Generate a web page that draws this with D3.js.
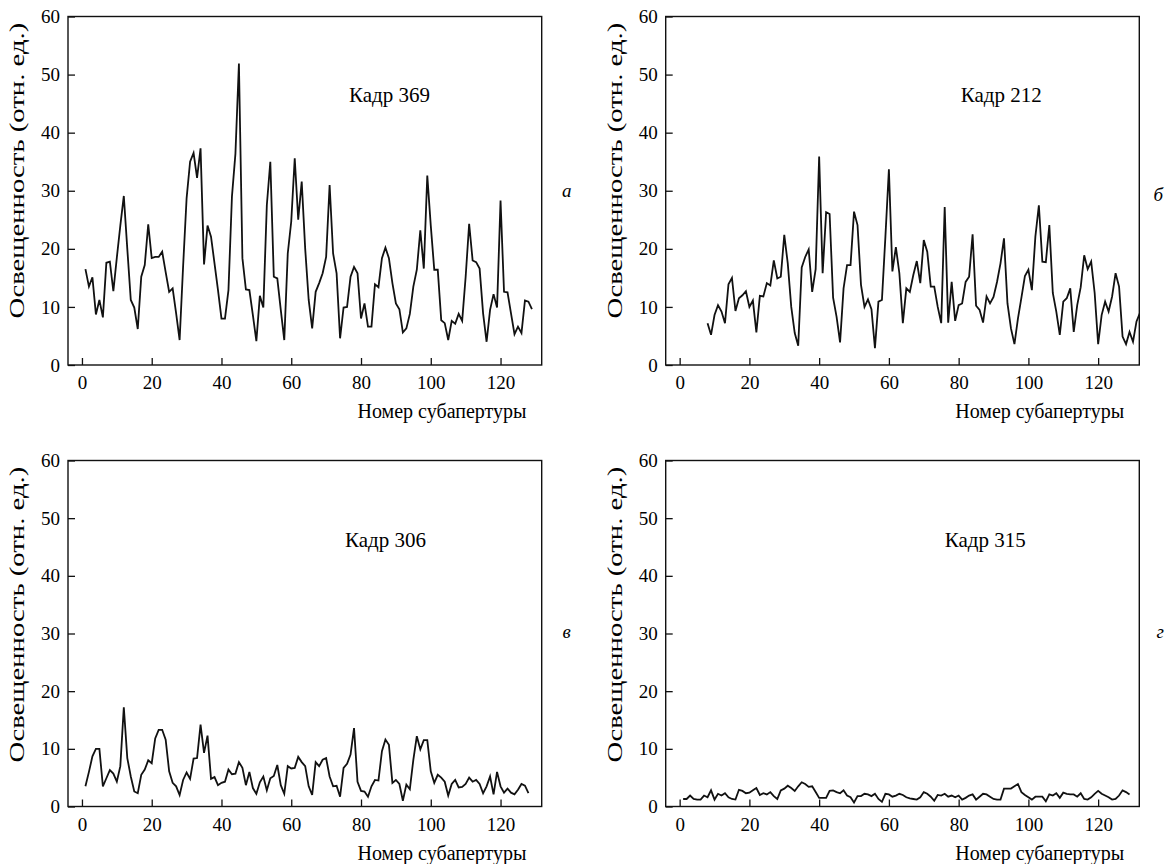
<!DOCTYPE html>
<html><head><meta charset="utf-8">
<script src="https://cdn.jsdelivr.net/npm/d3@7"></script>
<style>
body{margin:0;background:#fff}
</style>
</head><body>
<svg id="chart" width="1168" height="864"></svg>
<script>
// ---------- data ----------
const frameTitles = ["Кадр 369", "Кадр 212", "Кадр 306", "Кадр 315"];
const panelLetters = ["а", "б", "в", "г"];
const xTicks = [0, 20, 40, 60, 80, 100, 120];
const yTicks = [0, 10, 20, 30, 40, 50, 60];
const xTitle = "Номер субапертуры";
const yTitle = "Освещенность (отн. ед.)";

const startA = 1;
const seriesA = [16.5, 13.5, 15.1, 8.7, 11.2, 8.2, 17.6, 17.8, 12.7, 18.5, 24.0, 29.1, 20.0, 11.2, 9.9, 6.2, 15.2, 17.2, 24.2, 18.4,
  18.6, 18.6, 19.5, 16.0, 12.6, 13.2, 8.9, 4.3, 17.0, 28.7, 35.0, 36.5, 32.2, 37.3, 17.3, 24.0, 22.1, 17.5, 12.9, 8.0,
  8.0, 12.9, 29.0, 36.4, 51.9, 18.4, 13.0, 12.9, 8.6, 4.1, 11.9, 9.9, 27.5, 35.0, 15.2, 14.9, 9.5, 4.3, 19.2, 24.7,
  35.6, 25.0, 31.6, 20.0, 11.2, 6.3, 12.6, 14.1, 15.8, 18.6, 31.0, 19.2, 15.8, 4.6, 9.9, 10.0, 15.2, 16.9, 15.8, 8.0,
  10.6, 6.6, 6.6, 13.9, 13.4, 18.4, 20.2, 18.4, 14.1, 10.6, 9.6, 5.6, 6.3, 8.8, 13.5, 16.4, 23.2, 16.6, 32.6, 24.0,
  16.4, 16.4, 7.7, 7.2, 4.3, 7.6, 7.1, 8.8, 7.6, 15.2, 24.3, 18.0, 17.7, 16.6, 8.9, 4.0, 9.5, 12.2, 9.9, 28.3,
  12.6, 12.5, 8.9, 5.3, 6.6, 5.5, 11.1, 10.9, 9.6];

const startB = 8;
const seriesB = [7.2, 5.2, 8.6, 10.3, 9.2, 7.2, 13.9, 15.0, 9.3, 11.5, 12.0, 12.7, 10.0, 11.1, 5.6, 11.9, 11.8, 14.1, 13.7, 18.0,
  14.9, 15.2, 22.4, 17.5, 10.0, 5.5, 3.3, 16.8, 18.6, 19.9, 12.6, 16.5, 35.9,
  15.8, 26.3, 26.0, 11.6, 8.3, 3.9, 13.2, 17.2, 17.2, 26.4, 24.1, 13.8, 10.0, 11.3, 9.6, 2.9, 10.9, 11.2, 22.1, 33.7,
  16.1, 20.3, 15.8, 7.2, 13.2, 12.6, 15.5, 17.9, 14.1, 21.5, 19.5, 13.5, 13.5, 10.0, 7.2, 27.2,
  7.3, 14.3, 7.6, 10.3, 10.6, 14.3, 15.2, 22.5, 10.2, 9.5, 7.3, 11.8, 10.6, 11.7, 14.3, 17.5, 21.8, 10.6, 6.3, 3.6,
  8.0, 11.6, 15.3, 16.4, 12.9, 22.1, 27.5,
  17.8, 17.7, 24.1, 12.4, 9.2, 5.2, 10.9, 11.5, 13.2, 5.7, 10.3, 13.4, 18.9, 16.5, 17.8, 12.4, 3.6, 8.6, 10.9, 9.2,
  11.8, 15.8, 13.5, 4.9, 3.6, 5.7, 4.0, 7.5, 9.0];

const startC = 1;
const seriesC = [3.5, 6.0, 8.7, 10.0, 10.0, 3.5, 4.9, 6.3, 5.7, 4.3, 7.0, 17.2, 8.4, 5.2, 2.6, 2.3, 5.5, 6.4, 8.0, 7.5,
  11.8, 13.3, 13.3, 11.6, 6.1, 4.1, 3.5, 2.0, 4.6, 5.9, 4.8, 8.3, 8.4, 14.2, 9.3, 12.3, 4.8, 5.1, 3.7, 4.1,
  4.3, 6.4, 5.6, 5.7, 7.7, 6.7, 3.7, 6.0, 3.2, 2.2, 4.2, 5.2, 2.8, 4.9, 5.3, 7.2, 3.7, 2.2, 7.0, 6.6,
  6.7, 8.6, 7.7, 7.0, 3.5,
  2.0, 7.7, 7.0, 8.1, 8.4, 5.2, 3.5, 3.6, 1.7, 6.7, 7.4, 9.0, 13.6, 4.3, 2.7, 2.6, 1.7, 3.5, 4.6, 4.5,
  9.6, 11.6, 10.7, 4.1, 4.6, 3.9, 1.0, 3.8, 3.0, 8.1, 12.2, 9.9, 11.5, 11.5, 6.1, 4.1, 5.5, 5.0, 4.3, 1.9,
  3.9, 4.6, 3.3, 3.4, 3.9, 5.0, 4.3, 4.6, 3.9, 2.3, 3.5, 5.2, 2.1, 6.0, 3.5, 2.4, 3.1, 2.4, 2.1, 2.9,
  3.9, 3.6, 2.3];

const startD = 1;
const seriesD = [1.3, 1.3, 1.9, 1.3, 1.2, 1.2, 1.9, 1.6, 2.8, 1.2, 2.2, 1.9, 2.3, 1.6, 1.3, 1.2, 2.9, 2.7, 2.3, 2.4,
  2.8, 3.2, 2.0, 2.3, 2.1, 2.5, 1.8, 1.3, 2.8, 3.1, 3.6, 3.2, 2.7, 3.5, 4.2, 3.9, 3.4, 3.5, 2.5, 1.5,
  1.5, 1.5, 2.7, 2.8, 2.5, 2.3, 2.8, 1.9, 1.6, 0.7, 1.8, 1.8, 2.2, 2.1, 1.8, 2.2, 1.3, 0.8, 2.2, 2.1,
  1.7, 1.9, 2.2, 2.0, 1.6, 1.4,
  1.3, 1.2, 1.6, 2.5, 2.2, 1.7, 1.0, 2.0, 1.9, 2.2, 1.7, 1.9, 1.6, 1.9, 1.2, 1.5, 1.9, 2.1, 1.2, 1.7,
  2.2, 2.1, 1.7, 1.3, 1.2, 1.2, 3.1, 3.1, 3.1, 3.5, 3.9, 2.5, 2.0, 1.6, 1.2, 1.7, 1.7, 1.7, 0.9, 2.1,
  1.9, 2.3, 1.5, 2.4, 2.2, 2.1, 2.1, 1.7, 2.3, 1.3, 1.2, 1.6, 2.2, 2.7, 2.2, 1.9, 1.6, 1.2, 1.3, 1.9,
  2.8, 2.5, 2.1];

const starts = [startA, startB, startC, startD];
const seriesList = [seriesA, seriesB, seriesC, seriesD];

// ---------- layout ----------
const FONT = "'Liberation Serif', 'Times New Roman', Times, 'DejaVu Serif', serif";
const svg = d3.select("#chart");
svg.append("rect").attr("width", 1168).attr("height", 864).attr("fill", "#fff");

const cols = [{ left: 68, right: 541.7 }, { left: 665.7, right: 1139.3 }];
const rows = [{ top: 16.5, bottom: 365 }, { top: 460.5, bottom: 806.5 }];
const titlePos = [{ dx: 281, dy: 85 }, { dx: 295, dy: 85 }, { dx: 277, dy: 86 }, { dx: 279, dy: 86 }];
const letterPos = [{ dx: 25, y: 197 }, { dx: 19, y: 201 }, { dx: 25, y: 638 }, { dx: 21, y: 638 }];

const FS = 19;

function styleText(sel, size) {
  sel.attr("font-family", FONT).style("font-family", FONT)
    .attr("font-size", size).attr("fill", "#000");
}

seriesList.forEach((vals, i) => {
  const c = cols[i % 2], r = rows[Math.floor(i / 2)];
  const x = d3.scaleLinear().domain([-4, 131.8]).range([c.left, c.right]);
  const y = d3.scaleLinear().domain([0, 60]).range([r.bottom, r.top]);
  const g = svg.append("g");

  const clipId = "clip" + i;
  svg.append("clipPath").attr("id", clipId).append("rect")
    .attr("x", c.left).attr("y", r.top).attr("width", c.right - c.left).attr("height", r.bottom - r.top);

  const pts = vals.map((v, k) => [starts[i] + k, v]);
  g.append("path")
    .datum(pts)
    .attr("clip-path", `url(#${clipId})`)
    .attr("fill", "none")
    .attr("stroke", "#111")
    .attr("stroke-width", 1.8)
    .attr("d", d3.line().x(d => x(d[0])).y(d => y(d[1])));

  const xa = g.append("g").attr("transform", `translate(0,${r.bottom})`)
    .call(d3.axisBottom(x).tickValues(xTicks).tickSizeInner(-7).tickSizeOuter(0).tickPadding(11));
  xa.attr("font-family", null).attr("font-size", null);
  xa.select(".domain").remove();
  xa.selectAll("line").attr("stroke", "#111").attr("stroke-width", 1.3);
  styleText(xa.selectAll("text"), FS);

  const ya = g.append("g").attr("transform", `translate(${c.left},0)`)
    .call(d3.axisLeft(y).tickValues(yTicks).tickSizeInner(-7).tickSizeOuter(0).tickPadding(8));
  ya.attr("font-family", null).attr("font-size", null);
  ya.select(".domain").remove();
  ya.selectAll("line").attr("stroke", "#111").attr("stroke-width", 1.3);
  styleText(ya.selectAll("text"), FS);

  g.append("rect")
    .attr("x", c.left).attr("y", r.top)
    .attr("width", c.right - c.left).attr("height", r.bottom - r.top)
    .attr("fill", "none").attr("stroke", "#111").attr("stroke-width", 1.4);

  styleText(g.append("text")
    .attr("x", c.left + 374).attr("y", r.bottom + 53)
    .attr("text-anchor", "middle")
    .text(xTitle), 20);
  styleText(g.append("text")
    .attr("transform", `translate(${c.left - 44},${r.top + 154}) scale(1,1.37) rotate(-90)`)
    .attr("text-anchor", "middle")
    .text(yTitle), 21);

  styleText(g.append("text")
    .attr("x", c.left + titlePos[i].dx).attr("y", r.top + titlePos[i].dy)
    .text(frameTitles[i]), 21);

  styleText(g.append("text")
    .attr("x", c.right + letterPos[i].dx).attr("y", letterPos[i].y)
    .attr("text-anchor", "middle").attr("font-style", "italic")
    .text(panelLetters[i]), 19);
});
</script>
</body></html>
